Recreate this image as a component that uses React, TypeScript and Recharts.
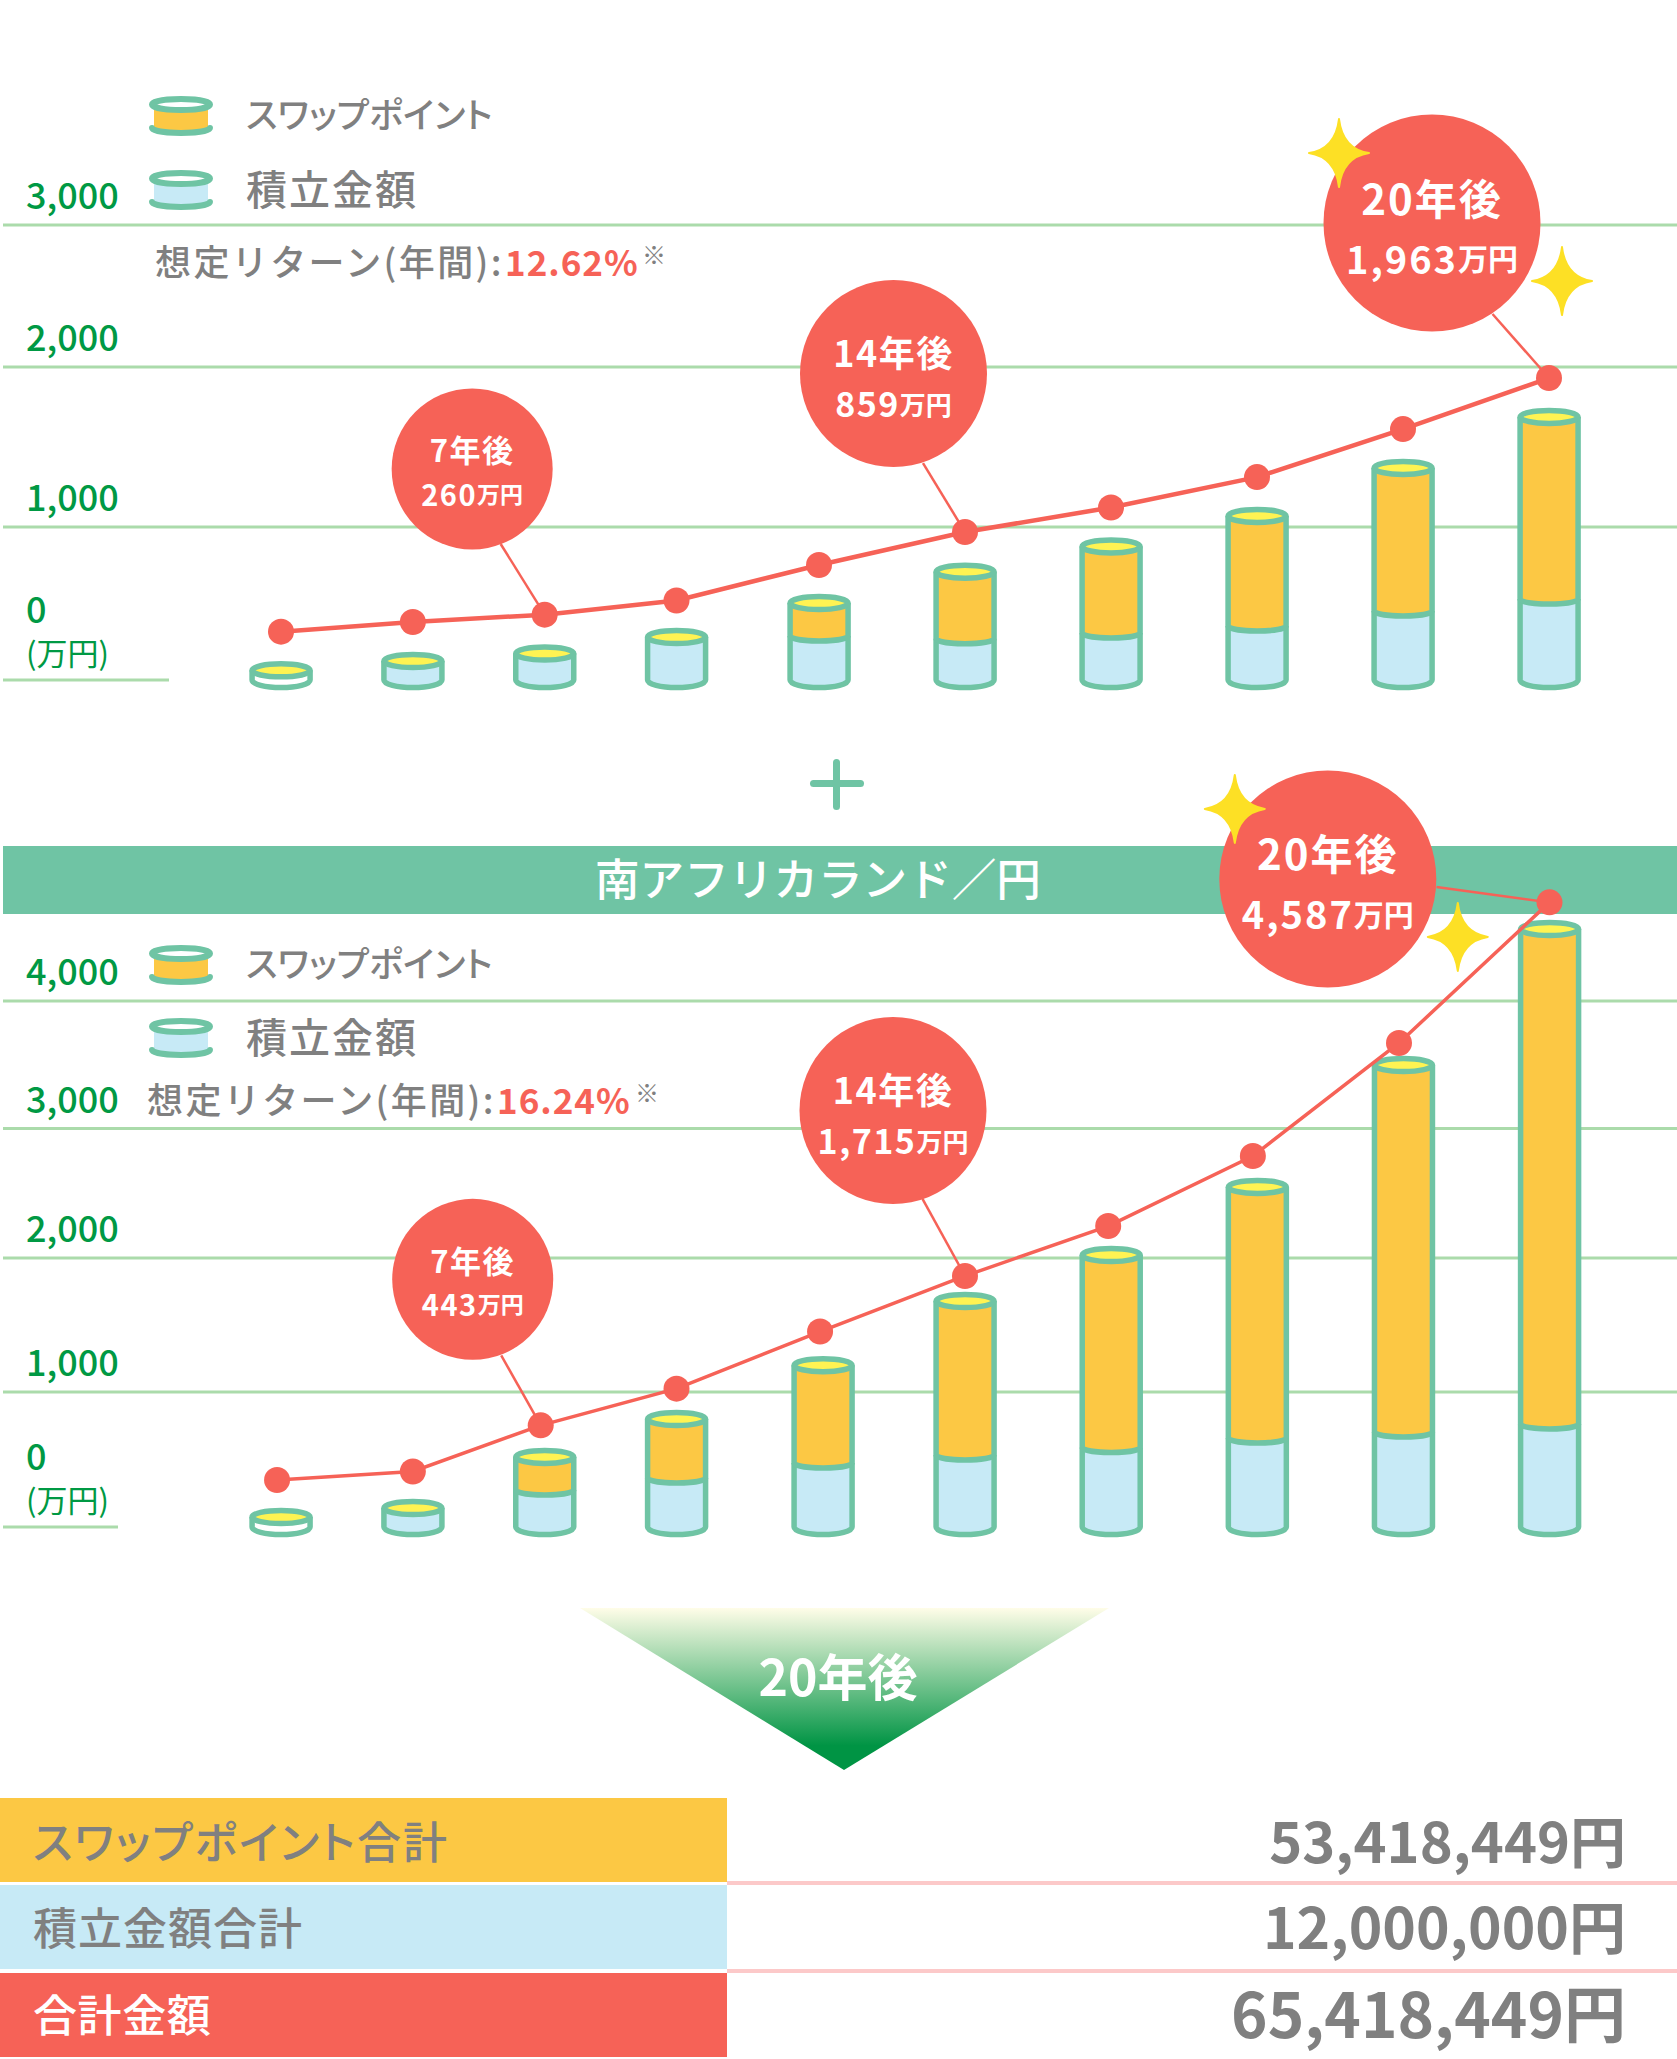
import React from "react";
import { ComposedChart, Bar, Line, XAxis, YAxis, CartesianGrid, Legend } from "recharts";

const FONT = '"Noto Sans CJK JP", "Noto Sans", sans-serif';
const GREEN = "#6fc4a4";
const RED = "#f66257";
const ORANGE = "#fcc844";
const BLUE = "#c7eaf6";
const YELLOW = "#fff352";
const GRID = "#abdbab";
const GRAY = "#808080";
const AXIS = "#009944";
const STAR = "#fde025";

const periods = [1, 2, 3, 4, 5, 6, 7, 8, 9, 10];

// Chart 1
const savingsA = [63, 124, 173, 281, 288, 270, 307, 353, 451, 529];
const swapA = [0, 0, 0, 0, 215, 438, 566, 716, 918, 1159];
const lineA = [316, 379, 427, 520, 752, 967, 1122, 1312, 1612, 1931];
const lineSlotA = [1, 2, 3, 4, 5, 6, 7, 8, 9, 10];
const ticksA = [0, 1000, 2000, 3000];

// Chart 2
const savingsB = [74, 141, 274, 363, 474, 533, 589, 659, 704, 763];
const swapB = [0, 0, 245, 437, 726, 1146, 1434, 1890, 2794, 3801];
const lineB = [348, 411, 753, 1025, 1451, 1866, 2247, 2788, 3671, 4773];
const lineSlotB = [0.97, 2, 2.97, 4, 4.98, 6, 6.98, 7.97, 8.97, 10];
const ticksB = [0, 1000, 2000, 3000, 4000];

const calloutYears = ["7", "14", "20"];
const calloutAmountsA = ["260", "859", "1,963"];
const calloutAmountsB = ["443", "1,715", "4,587"];
const summaryLabels = ["スワップポイント合計", "積立金額合計", "合計金額"];
const summaryValues = ["53,418,449円", "12,000,000円", "65,418,449円"];
const SWAP_NAME = "スワップポイント";
const SAVINGS_NAME = "積立金額";

function knotScale(knots: number[][]) {
  const make = () => {
    let dom = [knots[0][0], knots[knots.length - 1][0]];
    let rng = [knots[0][1], knots[knots.length - 1][1]];
    const s: any = (v: number) => {
      let i = 0;
      while (i < knots.length - 2 && v > knots[i + 1][0]) i++;
      const [a, pa] = knots[i];
      const [b, pb] = knots[i + 1];
      return pa + ((v - a) / (b - a)) * (pb - pa);
    };
    s.domain = (d?: number[]) => { if (d === undefined) return dom; dom = d; return s; };
    s.range = (r?: number[]) => { if (r === undefined) return rng; rng = r; return s; };
    s.copy = make;
    s.ticks = () => knots.map((k) => k[0]);
    return s;
  };
  return make();
}

const BAR_STROKE = 5.5;

function Savings(props: any) {
  const { x, y, width, height, payload } = props;
  if (!height && height !== 0) return null;
  const r = x + width;
  const fill = payload.slot === 1 ? "#ffffff" : BLUE;
  const b = y + height;
  return (
    <g>
      <path d={`M${x},${y} L${x},${b} A${width / 2},7.5 0 0 0 ${r},${b} L${r},${y} Z`} fill={fill} stroke="none" />
      <path d={`M${x},${y} L${x},${b} A${width / 2},7.5 0 0 0 ${r},${b} L${r},${y}`} fill="none" stroke={GREEN} strokeWidth={BAR_STROKE} />
      {payload.swap === 0 && <ellipse cx={x + width / 2} cy={y} rx={width / 2} ry={6.5} fill={YELLOW} stroke={GREEN} strokeWidth={BAR_STROKE} />}
    </g>
  );
}

function Swap(props: any) {
  const { x, y, width, height, payload } = props;
  if (!payload.swap) return null;
  const r = x + width;
  const b = y + height;
  return (
    <g>
      <path d={`M${x},${y} L${x},${b} A${width / 2},5 0 0 0 ${r},${b} L${r},${y} Z`} fill={ORANGE} stroke="none" />
      <path d={`M${x},${y} L${x},${b} A${width / 2},5 0 0 0 ${r},${b} L${r},${y}`} fill="none" stroke={GREEN} strokeWidth={BAR_STROKE} />
      <ellipse cx={x + width / 2} cy={y} rx={width / 2} ry={6.5} fill={YELLOW} stroke={GREEN} strokeWidth={BAR_STROKE} />
    </g>
  );
}

function starPath(cx: number, cy: number, hw: number, hh: number) {
  const k = 0.12;
  return `M${cx},${cy - hh} Q${cx + hw * k},${cy - hh * k} ${cx + hw},${cy} Q${cx + hw * k},${cy + hh * k} ${cx},${cy + hh} Q${cx - hw * k},${cy + hh * k} ${cx - hw},${cy} Q${cx - hw * k},${cy - hh * k} ${cx},${cy - hh} Z`;
}

type Callout = {
  index: number; year: string; amount: string; r: number; bx: number; by: number; tx: number; ty: number;
  f1: number; f2: number; f3: number; d1: number; d2: number; ls: number; stars?: boolean;
};

function makeDot(callouts: Callout[]) {
  return (props: any) => {
    const { cx, cy, index } = props;
    const c = callouts.find((k) => k.index === index);
    return (
      <g key={`dot-${index}`}>
        {c && <line x1={cx} y1={cy} x2={cx + c.tx} y2={cy + c.ty} stroke={RED} strokeWidth={2.5} />}
        <circle cx={cx} cy={cy} r={13} fill={RED} />
        {c && (
          <g>
            <circle cx={cx + c.bx} cy={cy + c.by} r={c.r} fill={RED} />
            <text x={cx + c.bx} y={cy + c.by + c.d1} textAnchor="middle" dominantBaseline="central" fill="#fff" fontFamily={FONT} fontWeight={700} fontSize={c.f1} letterSpacing={c.ls}>
              {c.year}年後
            </text>
            <text x={cx + c.bx} y={cy + c.by + c.d2} textAnchor="middle" dominantBaseline="central" fill="#fff" fontFamily={FONT} fontWeight={700} fontSize={c.f2} letterSpacing={c.ls}>
              {c.amount}
              <tspan fontSize={c.f3} letterSpacing={0}>万円</tspan>
            </text>
            {c.stars && <path d={starPath(cx + c.bx - 93, cy + c.by - 70, 30, 34)} fill={STAR} stroke={STAR} strokeWidth={2} strokeLinejoin="round" />}
            {c.stars && <path d={starPath(cx + c.bx + 130, cy + c.by + 58, 30, 34)} fill={STAR} stroke={STAR} strokeWidth={2} strokeLinejoin="round" />}
          </g>
        )}
      </g>
    );
  };
}

function LegendIcon({ fill }: { fill: string }) {
  return (
    <svg width={64} height={40} style={{ display: "block", overflow: "visible" }}>
      <path d="M5,8 L5,31 A27,6 0 0 0 59,31 L59,8 Z" fill={fill} />
      <path d="M3,32 A29,5 0 0 0 61,32" fill="none" stroke={GREEN} strokeWidth={6} strokeLinecap="round" />
      <ellipse cx={32} cy={8.5} rx={29} ry={5.5} fill="#fff" stroke={GREEN} strokeWidth={6} />
    </svg>
  );
}

function makeLegend(gap: number) {
  return (props: any) => {
    const payload = props.payload || [];
    const items = [SWAP_NAME, SAVINGS_NAME].map((n) => payload.find((it: any) => it.value === n)).filter(Boolean);
    return (
      <div style={{ position: "relative", height: 0 }}>
        {items.map((it: any, i: number) => (
          <div key={it.value} style={{ position: "absolute", left: 0, top: i * gap, display: "flex", alignItems: "center", height: 40 }}>
            <div style={{ width: 97 }}><LegendIcon fill={it.color} /></div>
            <div style={{ fontFamily: FONT, fontWeight: 500, color: GRAY, whiteSpace: "nowrap", fontSize: i === 0 ? 35 : 41, fontFeatureSettings: i === 0 ? '"palt"' : "normal", letterSpacing: i === 0 ? 0.2 : 2, lineHeight: "40px", position: "relative", top: -3 }}>
              {it.value}
            </div>
          </div>
        ))}
      </div>
    );
  };
}

function AxisTick(props: any) {
  const { y, payload, baseEnd } = props;
  const v = payload.value;
  if (v === 0) {
    return (
      <g>
        <text x={26} y={y - 73} dominantBaseline="central" fill={AXIS} fontFamily={FONT} fontWeight={500} fontSize={36}>0</text>
        <text x={26} y={y - 29} dominantBaseline="central" fill={AXIS} fontFamily={FONT} fontWeight={400} fontSize={31}>(万円)</text>
        <line x1={3} x2={baseEnd} y1={y} y2={y} stroke={GRID} strokeWidth={3} />
      </g>
    );
  }
  return (
    <text x={26} y={y - 32} dominantBaseline="central" fill={AXIS} fontFamily={FONT} fontWeight={500} fontSize={36}>
      {v.toLocaleString("en-US")}
    </text>
  );
}

function Panel(p: {
  top: number; height: number; savings: number[]; swap: number[]; line: number[]; slots: number[];
  ticks: number[]; yKnots: number[][]; xKnots: number[][]; callouts: Callout[]; baseEnd: number; legendTop: number; legendGap: number; lineWidth: number;
}) {
  const data = periods.map((slot, i) => ({ slot, savings: p.savings[i], swap: p.swap[i], total: p.line[i], lineSlot: p.slots[i] }));
  const yScale = knotScale(p.yKnots.map(([v, px]) => [v, px - p.top]));
  const xScale = knotScale(p.xKnots);
  const domain: [number, number] = [0, p.yKnots[p.yKnots.length - 1][0]];
  return (
    <div style={{ position: "absolute", left: 0, top: p.top }}>
      <ComposedChart width={1677} height={p.height} data={data} margin={{ top: 0, right: 0, bottom: 0, left: 2 }}>
        <CartesianGrid horizontal vertical={false} horizontalValues={p.ticks.slice(1)} stroke={GRID} strokeWidth={3} />
        <XAxis xAxisId="bars" dataKey="slot" type="number" domain={[0, 11]} scale={xScale} hide />
        <XAxis xAxisId="line" dataKey="lineSlot" type="number" domain={[0, 11]} scale={xScale} hide />
        <YAxis type="number" width={1} domain={domain} scale={yScale} ticks={p.ticks} interval={0} axisLine={false} tickLine={false} tick={<AxisTick baseEnd={p.baseEnd} />} />
        <Legend
          verticalAlign="top"
          content={makeLegend(p.legendGap)}
          wrapperStyle={{ position: "absolute", left: 149, top: p.legendTop, width: 500, height: 0 }}
        />
        <Bar xAxisId="bars" dataKey="savings" name={SAVINGS_NAME} stackId="a" barSize={58} fill={BLUE} shape={<Savings />} isAnimationActive={false} />
        <Bar xAxisId="bars" dataKey="swap" name={SWAP_NAME} stackId="a" barSize={58} fill={ORANGE} shape={<Swap />} isAnimationActive={false} />
        <Line xAxisId="line" dataKey="total" type="linear" stroke={RED} strokeWidth={p.lineWidth} dot={makeDot(p.callouts)} activeDot={false} legendType="none" isAnimationActive={false} />
      </ComposedChart>
    </div>
  );
}

const returnStyle: React.CSSProperties = { position: "absolute", fontFamily: FONT, whiteSpace: "nowrap", lineHeight: 1, transform: "translateY(-50%)" };

function ReturnLine({ left, y, redLeft, noteLeft, rate }: { left: number; y: number; redLeft: number; noteLeft: number; rate: string }) {
  return (
    <>
      <div style={{ ...returnStyle, left, top: y, fontSize: 36, letterSpacing: 2.4, color: GRAY, fontWeight: 500 }}>想定リターン(年間):</div>
      <div style={{ ...returnStyle, left: redLeft, top: y, fontSize: 35, letterSpacing: 1, color: RED, fontWeight: 700 }}>{rate}</div>
      <div style={{ ...returnStyle, left: noteLeft, top: y - 6, fontSize: 24, color: GRAY }}>※</div>
    </>
  );
}

export default function App() {
  const calloutsA: Callout[] = [
    { index: 2, year: calloutYears[0], amount: calloutAmountsA[0], r: 80.5, bx: -72.5, by: -145.7, tx: -44, ty: -70.7, f1: 31, f2: 29, f3: 23, d1: -20, d2: 24, ls: 1.5 },
    { index: 5, year: calloutYears[1], amount: calloutAmountsA[1], r: 93.5, bx: -71.5, by: -158.5, tx: -42, ty: -69, f1: 36, f2: 34, f3: 26, d1: -23, d2: 29, ls: 1.5 },
    { index: 9, year: calloutYears[2], amount: calloutAmountsA[2], r: 108.5, bx: -117, by: -155, tx: -56.5, ty: -64, f1: 42, f2: 38, f3: 30, d1: -27, d2: 34, ls: 2, stars: true },
  ];
  const calloutsB: Callout[] = [
    { index: 2, year: calloutYears[0], amount: calloutAmountsB[0], r: 80.5, bx: -68, by: -146, tx: -39.5, ty: -70, f1: 31, f2: 29, f3: 23, d1: -20, d2: 24, ls: 1.5 },
    { index: 5, year: calloutYears[1], amount: calloutAmountsB[1], r: 93.5, bx: -72, by: -165.4, tx: -42.5, ty: -77, f1: 36, f2: 34, f3: 26, d1: -23, d2: 29, ls: 1.5 },
    { index: 9, year: calloutYears[2], amount: calloutAmountsB[2], r: 108.5, bx: -221.7, by: -23.4, tx: -113, ty: -15.4, f1: 42, f2: 38, f3: 30, d1: -27, d2: 34, ls: 2, stars: true },
  ];
  const rows = [
    { top: 1797.5, bg: ORANGE, color: GRAY, size: 44, ls: 2, feat: '"palt"', val: 56, dy: -1, ldy: 0 },
    { top: 1885, bg: BLUE, color: GRAY, size: 44, ls: 1, feat: "normal", val: 57, dy: -3, ldy: -1 },
    { top: 1973, bg: RED, color: "#fff", size: 44, ls: 0.6, feat: "normal", val: 62, dy: -4, ldy: -2 },
  ];
  return (
    <div style={{ position: "absolute", left: 0, top: 0, width: 1677, height: 2059, overflow: "hidden", background: "#fff", fontFamily: FONT }}>
      {/* plus */}
      <div style={{ position: "absolute", left: 810, top: 780, width: 54, height: 7, borderRadius: 4, background: GREEN }} />
      <div style={{ position: "absolute", left: 833, top: 759, width: 7, height: 51, borderRadius: 4, background: GREEN }} />
      {/* band */}
      <div style={{ position: "absolute", left: 3, top: 846, width: 1674, height: 68, background: GREEN }} />
      <div style={{ position: "absolute", left: 595, top: 843, width: 446, height: 68, lineHeight: "68px", textAlign: "center", color: "#fff", fontSize: 44.6, fontWeight: 500, whiteSpace: "nowrap" }}>南アフリカランド／円</div>

      <Panel top={0} height={720} savings={savingsA} swap={swapA} line={lineA} slots={lineSlotA} ticks={ticksA}
        yKnots={[[0, 680], [1000, 527], [2000, 367], [3000, 225]]}
        xKnots={[[1, 281], [4, 676.5], [5, 819], [10, 1549]]}
        callouts={calloutsA} baseEnd={169} legendTop={96} legendGap={73.5} lineWidth={4.5} />
      <Panel top={750} height={800} savings={savingsB} swap={swapB} line={lineB} slots={lineSlotB} ticks={ticksB}
        yKnots={[[0, 1527], [1000, 1392], [2000, 1258], [3000, 1128.6], [4000, 1001], [5000, 873.4]]}
        xKnots={[[1, 281], [4, 676.5], [5, 823], [6, 965], [10, 1549.5]]}
        callouts={calloutsB} baseEnd={118} legendTop={194.5} legendGap={73.5} lineWidth={3.5} />

      <ReturnLine left={155} y={260} redLeft={505} noteLeft={642} rate="12.62%" />
      <ReturnLine left={147} y={1098} redLeft={497} noteLeft={635} rate="16.24%" />

      {/* arrow */}
      <svg style={{ position: "absolute", left: 0, top: 0 }} width={1677} height={2059} pointerEvents="none">
        <defs>
          <linearGradient id="arrow" x1="0" y1="0" x2="0" y2="1">
            <stop offset="0%" stopColor="#fffde8" />
            <stop offset="85%" stopColor="#009444" />
            <stop offset="100%" stopColor="#009444" />
          </linearGradient>
        </defs>
        <polygon points="580,1608 1109,1608 844,1770" fill="url(#arrow)" />
        <text x={838} y={1674} textAnchor="middle" dominantBaseline="central" fill="#fff" fontFamily={FONT} fontWeight={700} fontSize={50}>20年後</text>
      </svg>

      {/* summary */}
      {rows.map((r, i) => (
        <React.Fragment key={i}>
          <div style={{ position: "absolute", left: 0, top: r.top, width: 727, height: 84, background: r.bg }} />
          <div style={{ position: "absolute", left: 33, top: r.top + r.ldy, height: 84, lineHeight: "84px", fontSize: r.size, letterSpacing: r.ls, fontFeatureSettings: r.feat, fontWeight: 500, color: r.color, whiteSpace: "nowrap" }}>{summaryLabels[i]}</div>
          <div style={{ position: "absolute", right: 51, top: r.top + r.dy, height: 84, lineHeight: "84px", fontSize: r.val, fontWeight: 700, color: GRAY, whiteSpace: "nowrap" }}>{summaryValues[i]}</div>
        </React.Fragment>
      ))}
      <div style={{ position: "absolute", left: 727, top: 1881, width: 950, height: 4, background: "#fcc9c9" }} />
      <div style={{ position: "absolute", left: 727, top: 1969, width: 950, height: 4, background: "#fcc9c9" }} />
    </div>
  );
}
